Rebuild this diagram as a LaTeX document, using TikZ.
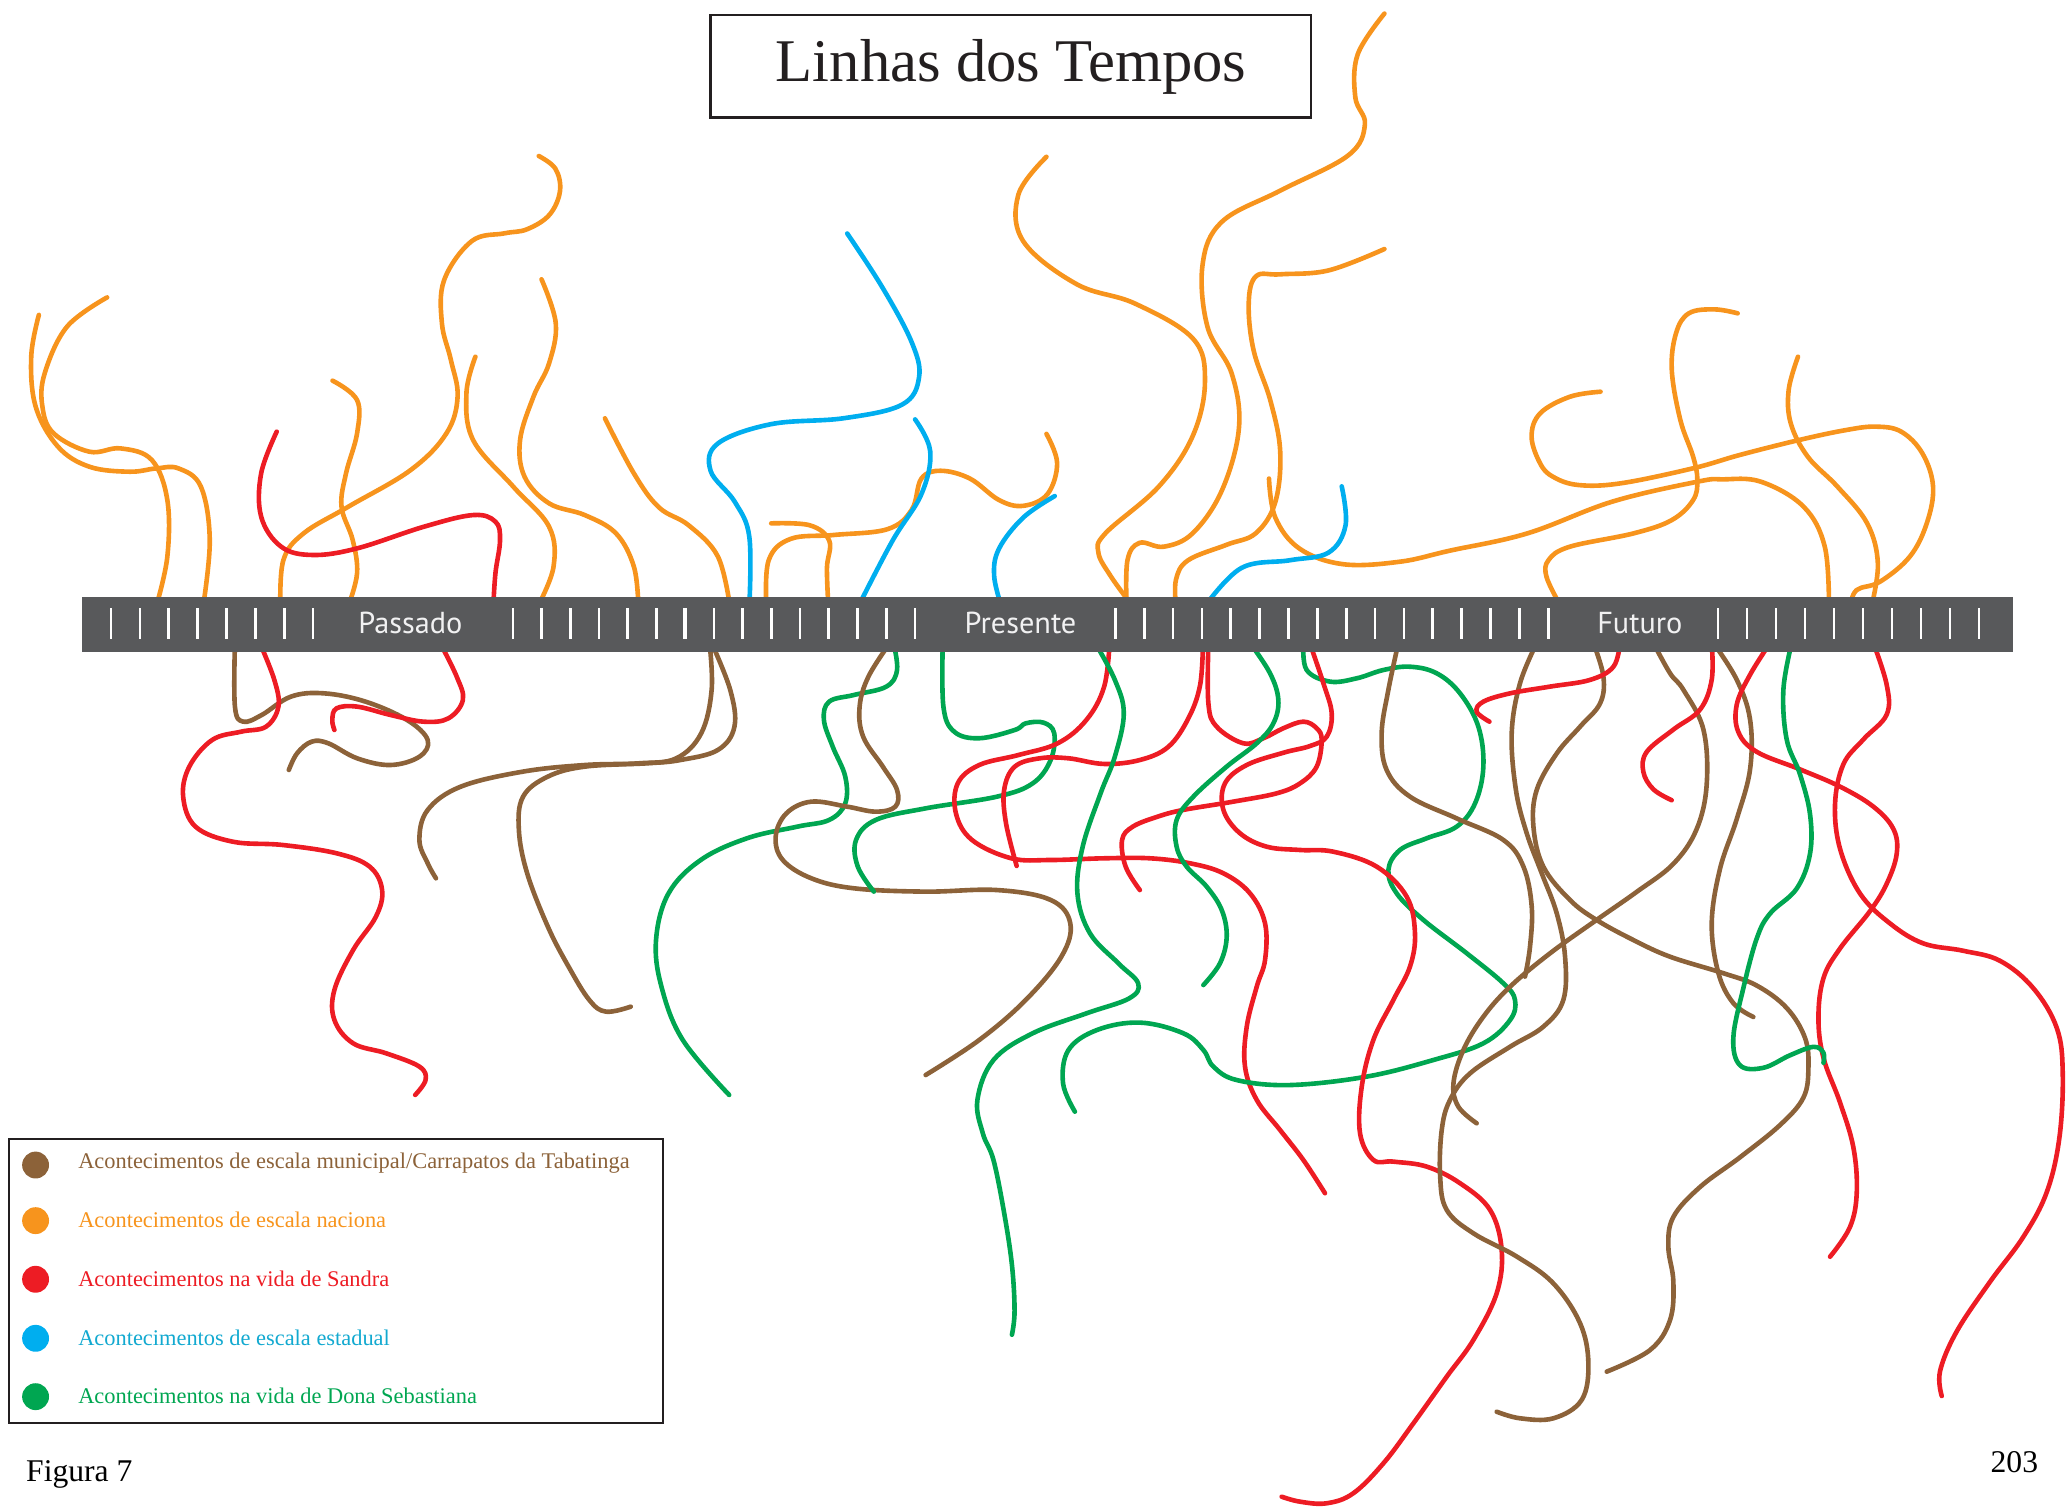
\documentclass[tikz,border=0pt]{standalone}
\usepackage{fontspec}
\setmainfont{Liberation Serif}
\newfontfamily\barfont{PT Sans}
\definecolor{cbrown}{HTML}{8C6239}
\definecolor{corange}{HTML}{F7941D}
\definecolor{cred}{HTML}{ED1C24}
\definecolor{cblue}{HTML}{00AEEF}
\definecolor{cbluetext}{HTML}{12A9D0}
\definecolor{cgreen}{HTML}{00A651}
\definecolor{barcol}{HTML}{58595B}
\definecolor{barlabelcol}{HTML}{F1F1F2}
\definecolor{frame}{HTML}{231F20}
\tikzset{
  crv/.style={line width=3.5pt, line cap=round, line join=round},
  tick/.style={draw=white, line width=2pt},
  barlabel/.style={anchor=base, text=barlabelcol, font=\barfont\fontsize{23}{26}\selectfont, inner sep=0pt},
  legtext/.style={anchor=base west, font=\fontsize{17}{20}\selectfont, inner sep=0pt},
  legdot/.style={circle, minimum size=20.4pt, inner sep=0pt},
  sm/.style={smooth, tension=0.62},
}
\begin{document}
\begin{tikzpicture}[x=1pt,y=-1pt]
\useasboundingbox (0,0) rectangle (1568,1143);

% ---------------- top curves ----------------
% orange
\draw[crv,corange] plot[sm] coordinates {(81.3,225.7) (50.8,248) (33.9,283.4) (32.2,308.7) (40.7,328.9) (67.8,342.8) (91.5,340.3) (115.2,349.1) (127,379.5) (127,422.5) (118.6,460)};
\draw[crv,corange] plot[sm] coordinates {(29.5,239) (23.7,270.7) (27.1,308.7) (44,339) (67.8,354.2) (98.3,358) (118.6,355.5) (135.5,355.5) (152.5,369.4) (159.2,409.9) (154.2,460)};
\draw[crv,corange] plot[sm] coordinates {(252.4,288.9) (271,303.6) (271,328.9) (262.6,359.3) (259.2,384.6) (267.7,409.9) (271,435.1) (264.3,460)};
\draw[crv,corange] plot[sm] coordinates {(408.9,118.4) (421.5,128) (425,145) (417,163) (400,174) (382.8,177.1) (358,183) (337.1,212.5) (335.4,245.4) (342.2,273.2) (347.3,301) (338.8,328.9) (311.7,356.7) (264.3,384.6) (230.4,404.8) (215.1,425) (212.8,460)};
\draw[crv,corange] plot[sm] coordinates {(360.8,270.7) (354,298.5) (359.1,334) (389.6,369.4) (416.7,399.7) (420.1,430.1) (408.3,460)};
\draw[crv,corange] plot[sm] coordinates {(411,212) (421.8,245.4) (416.7,275.8) (404.9,301) (394.7,334) (398.1,361.8) (416.7,382) (443.8,390.9) (467.5,404.8) (481.1,430.1) (484.5,460)};
\draw[crv,corange] plot[sm] coordinates {(459.1,317.5) (481.1,359.3) (500,385) (522.7,398.7) (544.8,422.3) (554,460)};
\draw[crv,corange] plot[sm] coordinates {(585.3,397.2) (614.7,398.7) (629.4,410.5) (627.6,431.1) (628.7,460)};
\draw[crv,corange] plot[sm] coordinates {(581.6,460) (583.4,425.2) (600,409) (633.1,406) (673.6,401.6) (692,386.8) (699.3,363.2) (714,357.3) (736.1,363.2) (758.2,379.5) (776.6,383.9) (795,375) (802.3,351.4) (794.2,329.3)};
\draw[crv,corange] plot[sm] coordinates {(794.2,119) (772.9,147.7) (776.6,183.1) (817,215.6) (861.2,230.3) (905.3,256.9) (914.5,289.4) (905.3,330.7) (879.6,369.1) (839.1,404.6) (833.6,419.3) (842.8,437) (858,458)};
\draw[crv,corange] plot[sm] coordinates {(1050.7,10.3) (1030.4,41.3) (1028.6,73.8) (1035.9,94.5) (1023,118.1) (971.6,144.7) (927.4,168.3) (912.7,200.8) (916.4,248) (934.8,283.5) (940.3,324.8) (927.4,372.1) (905.3,404.6) (883.3,414.9) (864.9,412) (855.7,425.2) (855,460)};
\draw[crv,corange] plot[sm] coordinates {(1050.7,189) (1008.4,205.2) (971.6,208.2) (953.2,209.7) (947.7,230.3) (951.4,265.8) (964.2,304.2) (971.6,342.6) (967.9,381) (953.2,404.6) (931.1,413.4) (901.7,425.2) (892.5,440) (892.5,460)};
\draw[crv,corange] plot[sm] coordinates {(963.1,363.2) (967.9,392.8) (986.3,416.4) (1019.4,428.2) (1062.5,426.3) (1100,418) (1159.2,404.8) (1223.7,380.7) (1288.2,365.6) (1307.5,363.8) (1336.5,365.6) (1368.8,384.5) (1384.9,414.9) (1388.1,460)};
\draw[crv,corange] plot[sm] coordinates {(1214.7,297.3) (1191.5,301.1) (1168.9,313.7) (1162.4,331.4) (1168.9,351.7) (1178.6,361.8) (1197.9,368.1) (1230.1,366.8) (1285,355.4) (1320.4,345.3) (1365.6,333.9) (1401,326.4) (1423.6,323.8) (1442.9,327.6) (1459,344.1) (1467.1,369.4) (1462.3,397.2) (1449.4,422.5) (1426.8,441.5) (1409.1,447.8) (1404.2,460)};
\draw[crv,corange] plot[sm] coordinates {(1318.8,237.8) (1301.1,234.8) (1281.7,237.8) (1272,253) (1268.8,280.8) (1275.3,318.8) (1285,346.6) (1288.2,364.3) (1285,379.5) (1268.8,394.7) (1239.8,404.8) (1191.5,414.9) (1175.3,425) (1173.7,437.7) (1183.4,458)};
\draw[crv,corange] plot[sm] coordinates {(1364.6,270.7) (1357.5,296) (1359.1,321.3) (1372,346.6) (1394.6,369.4) (1417.1,397.2) (1425.2,427.6) (1420.4,460)};
% red top
\draw[crv,cred] plot[sm] coordinates {(210,327.6) (198.2,359.3) (198.2,392.1) (213.4,414.9) (237.2,421.2) (271,416.2) (321.9,399.7) (359.1,390.9) (376,395.9) (379.5,409.9) (376,435.1) (374.4,460)};
% blue
\draw[crv,cblue] plot[sm] coordinates {(643,177.2) (669.9,218.5) (692,259.9) (697.5,286.4) (684.6,307.1) (640.5,317.4) (585.3,321.9) (544.8,336.6) (539.3,357.3) (557.7,380.9) (568.7,407.5) (568.7,460)};
\draw[crv,cblue] plot[sm] coordinates {(694.5,318.3) (706,342.6) (699.3,375) (677.3,410.5) (651.5,460)};
\draw[crv,cblue] plot[sm] coordinates {(800.5,376.5) (776.6,392.8) (758.2,416.4) (754.5,437) (760,460)};
\draw[crv,cblue] plot[sm] coordinates {(1018.3,369.1) (1021.2,398.7) (1008.4,419.3) (978.9,425.2) (942.1,431.1) (914.5,460)};

% ---------------- bottom curves ----------------
\draw[crv,cbrown] plot[sm] coordinates {(178.3,488) (178.3,536.3) (184.6,547.7) (198.7,542.6) (220.8,528.7) (245.9,526.2) (277.4,532.5) (308.9,546.4) (324.6,561.6) (318.3,574.3) (296.3,580.6) (271,575.5) (249.1,564.1) (236.5,562.9) (225.5,571.7) (219.2,584.4)};
\draw[crv,cred] plot[sm] coordinates {(197.2,488) (208.2,516) (211.3,536.3) (201.9,551.5) (183,555.3) (161,561.6) (143.7,581.8) (139,604.6) (148.4,627.4) (176.7,638.8) (214.5,641.3) (255.4,647.6) (280.5,657.7) (290,675.5) (285.3,695.7) (268,721) (253.8,751.3) (253.8,774.1) (268,791.8) (293.1,799.4) (318.3,809.5) (323,819.6) (315.1,831)};
\draw[crv,cred] plot[sm] coordinates {(334,488) (346.6,513.5) (351.3,531.2) (340.3,545.2) (321.4,547.7) (296.3,542.6) (271.1,536.3) (255.4,537.6) (252.2,546.4) (253.8,554)};
\draw[crv,cbrown] plot[sm] coordinates {(538.5,488) (540.1,523.6) (532.2,556.5) (513.3,575.5) (485,579.3) (444.1,580.6) (397,585.6) (349.8,597) (324.6,614.7) (318.3,637.5) (324.6,655.2) (330.9,666.6)};
\draw[crv,cbrown] plot[sm] coordinates {(540.1,488) (554.2,523.6) (557.4,551.5) (544.8,569.2) (516.5,576.8) (491.3,579.3) (444.1,581.8) (415.8,589.4) (397,604.6) (393.8,629.9) (400.1,662.8) (415.8,703.3) (431.5,733.6) (447.3,759) (459.9,767.8) (478.7,764)};
\draw[crv,cgreen] plot[sm] coordinates {(678.1,488) (680.8,508.5) (672.7,521.1) (648.3,527.4) (629.3,532.5) (625.3,546.4) (632,566.7) (641.5,589.4) (641.5,609.7) (629.3,622.3) (605,627.4) (567,636.2) (531.8,652.7) (507.4,678) (497.9,713.4) (502,748.8) (518.2,789.3) (553.4,831)};
\draw[crv,cbrown] plot[sm] coordinates {(675.4,488) (659.1,513.5) (652.4,536.3) (655.1,559.1) (670,581.8) (680.8,599.5) (679.5,612.2) (664.6,616) (642.9,612.2) (615.8,608.4) (596.8,617.3) (588.7,635) (594.1,652.7) (615.8,666.6) (648.3,674.2) (702.5,676.7) (756.7,675.5) (797.4,683) (812.3,700.8) (805.5,726.1) (778.4,759) (743.2,789.3) (702.5,815.9)};
\draw[crv,cgreen] plot[sm] coordinates {(663.2,676.7) (651,657.7) (649.7,637.5) (664.6,622.3) (702.5,613.5) (756.7,604.6) (783.8,594.5) (797.4,576.8) (800.1,556.5) (791.9,548.4) (778.4,549) (770.2,554) (743.2,560.3) (724.2,555.3) (716,536.3) (715.5,488)};
\draw[crv,cred] plot[sm] coordinates {(842.1,488) (838,521.1) (824.5,546.4) (802.8,564.1) (773,573) (743.2,580.6) (726.9,594.5) (725.5,617.3) (737.7,637.5) (767.5,651.4) (797.4,652.7) (838,651.4) (872.8,651.4) (903.2,655.2) (928.5,662.8) (948.7,678) (960.1,700.8) (960.1,728.6) (953.8,748.8) (946.2,779.2) (944.9,809.5) (953.8,834.8) (971.5,857.6) (989.2,880.4) (1005.6,905.6)};
\draw[crv,cred] plot[sm] coordinates {(771.6,657.2) (763.5,624.8) (762.1,599.5) (770.2,581.8) (789.2,575.5) (810.9,575.5) (838,579.8) (865.1,576.8) (886.8,566.7) (902,545) (910.8,520) (913,488)};
\draw[crv,cgreen] plot[sm] coordinates {(831.2,488) (846.1,516) (852.9,541.4) (846.1,574.3) (835.3,602.1) (821.7,642.6) (817.7,678) (827.2,708.3) (848.8,731.1) (863.8,746.3) (857,757.7) (824.5,769.1) (783.8,784.2) (754,804.5) (741.8,834.8) (745.9,860.1) (754,880.4) (762,920) (768,960) (770,995) (768,1013)};
\draw[crv,cgreen] plot[sm] coordinates {(815.8,843.7) (806.8,822.2) (810.9,796.9) (832.6,781.7) (865.1,776.1) (898.1,784.2) (913.3,796.9) (920.9,809.5) (938.6,819.7) (979,823.5) (1037.2,817.1) (1087.8,804.5) (1125.8,791.8) (1146.1,774.1) (1149.8,758.9) (1141,746.3) (1113.2,723.5) (1080.3,698.2) (1060,678) (1053.7,660.3) (1062.5,645.1) (1082.8,636.2) (1105.5,627.4) (1119.5,609.7) (1125.8,581.8) (1122,551.5) (1108.1,526.2) (1090.4,511) (1070.1,506) (1049.9,508.5) (1029.7,514.8) (1009.4,517.3) (991.7,508.5) (989.2,488)};
\draw[crv,cred] plot[sm] coordinates {(865.1,675.5) (854.3,657.7) (851.6,637.5) (859.7,627.4) (878.6,619.8) (898,614.7) (936,608.4) (968.9,602.1) (986.7,594.5) (999.3,581.8) (1003.1,561.6) (999.3,552.7) (989.2,547.7) (974,552.7) (958.8,560.3) (943.6,564.1) (923.4,551.5) (917.1,533.8) (917.1,488)};
\draw[crv,cred] plot[sm] coordinates {(994,488) (1004.4,518.6) (1010.7,541.4) (1006.9,559.1) (994.2,566.2) (974,571.3) (946.2,580.6) (929.7,594.5) (928.5,614.7) (941.1,632.4) (961.4,642.6) (986.7,645.1) (1012,646.4) (1044.8,657.7) (1067.6,680.5) (1073.9,708.3) (1070.1,733.6) (1057.5,758.9) (1042.3,789.3) (1033.5,824.7) (1032.2,860.1) (1042.3,880.3) (1057.5,881.6) (1082.8,885.4) (1108.1,898) (1130.9,918.3) (1139.7,948.7) (1135.9,981.5) (1118.2,1017) (1098,1044.8) (1072.7,1080.2) (1049.9,1110.6) (1027.1,1133.3) (1006.9,1140.9) (986.7,1139.7) (972.7,1135.9)};
\draw[crv,cgreen] plot[sm] coordinates {(948.7,488) (963.9,511) (970.2,531.2) (966.4,549) (953.8,564.1) (931,581.8) (905.7,604.6) (893,622.3) (893,642.6) (900.6,657.7) (915.8,672.9) (927.2,690.6) (931,710.9) (925.9,731.1) (913.3,747.6)};
\draw[crv,cbrown] plot[sm] coordinates {(1061.3,488) (1053.7,523.6) (1048.6,556.5) (1052.4,584.4) (1070.1,604.6) (1105.5,621.1) (1141,637.5) (1156.2,657.7) (1162.5,688.1) (1161.2,718.5) (1157.4,741.2)};
\draw[crv,cbrown] plot[sm] coordinates {(1166.3,488) (1153.6,518.6) (1147.3,556.5) (1150.5,599.5) (1158.7,632.4) (1170.1,662.8) (1181.5,693.2) (1187.8,726.1) (1186.5,758.9) (1171.3,779.2) (1146.1,794.4) (1115.7,814.6) (1100.5,834.8) (1094.2,857.6) (1093,893) (1098,918.3) (1118.2,936) (1151.2,953.7) (1178.9,974) (1199.2,1004.3) (1205.5,1034.7) (1200.4,1062.5) (1179,1076.4) (1153.6,1076.4) (1135.9,1071.4)};
\draw[crv,cbrown] plot[sm] coordinates {(1209.3,488) (1216.9,513.5) (1214.4,533.8) (1199.2,551.5) (1181.5,571.8) (1166.3,599.5) (1163.8,627.4) (1171.3,657.7) (1191.5,683) (1211.7,698.2) (1239.6,713.4) (1267.5,726.1) (1307.9,738.6) (1333.3,748) (1356,765) (1369.9,787.7) (1372.5,810.4) (1368.7,833) (1351,853.8) (1320.6,878.3) (1290.2,900.9) (1270,923.6) (1266.2,946.2) (1270,972.7) (1267.5,1001.8) (1252.3,1024.6) (1219.4,1041)};
\draw[crv,cbrown] plot[sm] coordinates {(1254.8,488) (1267.5,511) (1277.6,523.5) (1292.8,553.7) (1295.3,595.2) (1287.7,629.2) (1270,655.6) (1242,677) (1211.7,698.2) (1176.4,723.5) (1146.1,748.8) (1125.8,771.6) (1110.6,796.9) (1103.1,822.2) (1106.8,839.9) (1120.7,852.5)};
\draw[crv,cbrown] plot[sm] coordinates {(1300.4,488) (1318.1,515.9) (1328.2,546.1) (1328.2,583.9) (1318.1,621.6) (1305.4,659.4) (1299.1,700.9) (1304.2,738.6) (1315.5,761.3) (1330.7,771.8)};
\draw[crv,cred] plot[sm] coordinates {(1229.5,488) (1224.5,506) (1206.8,516) (1176.4,521.1) (1146.1,526.2) (1125.8,532.5) (1120.7,540.1) (1130.4,547.7)};
\draw[crv,cred] plot[sm] coordinates {(1299.1,488) (1299.1,515.9) (1290.2,538.6) (1270,553.7) (1249.8,570.6) (1247.2,585.7) (1254.8,599) (1268.7,607.3)};
\draw[crv,cred] plot[sm] coordinates {(1343.4,488) (1328.2,512.1) (1318.1,534.8) (1319.3,555.5) (1333.3,570.6) (1366.1,583.9) (1396.5,597) (1421.8,612.2) (1437,629.2) (1439.5,648) (1431.9,670.7) (1419.3,691.4) (1396.5,719.8) (1383.9,742.4) (1380.1,772.6) (1383.9,802.8) (1396.5,836.8) (1406.6,870.7) (1409.2,904.7) (1404.1,931.1) (1388.9,953.8)};
\draw[crv,cred] plot[sm] coordinates {(1421.8,488) (1431.9,519.7) (1431.9,542.3) (1414.2,561.2) (1399,580.1) (1392.7,610.3) (1396.5,644.2) (1411.7,678.2) (1434.5,700.9) (1459.7,716) (1490.1,721.6) (1517.9,729.2) (1543.2,750) (1561,780.2) (1565.5,814.1) (1563,863.2) (1553.4,904.7) (1535.6,938.7) (1510.4,972.7) (1485.1,1010.4) (1472.4,1040.6) (1473.7,1059.5)};
\draw[crv,cgreen] plot[sm] coordinates {(1359.8,488) (1353.5,523.5) (1356,561.2) (1366.1,587.6) (1373.7,617.8) (1373.7,648) (1363.6,674.4) (1343.4,693.3) (1333.3,712.2) (1323.1,750) (1315.5,787.7) (1320.6,808.5) (1338.3,810.4) (1358.5,800.9) (1376.3,794.5) (1383.9,799) (1383.9,806.6)};

% ---------------- timeline bar ----------------
\fill[barcol] (62,453) rectangle (1527.5,494.5);
\foreach \i in {0,...,7} {\draw[tick] ({84.3+21.9*\i},461.7) -- ({84.3+21.9*\i},485);}
\foreach \i in {0,...,14} {\draw[tick] ({389.2+21.8*\i},461.7) -- ({389.2+21.8*\i},485);}
\draw[tick, line width=3pt] (520,461.7) -- (520,485);
\foreach \i in {0,...,15} {\draw[tick] ({846.5+21.9*\i},461.7) -- ({846.5+21.9*\i},485);}
\foreach \i in {0,...,9} {\draw[tick] ({1304+22*\i},461.7) -- ({1304+22*\i},485);}
\node[barlabel] (passado) at (311.5,480.7) {Passado};
\node[barlabel] (presente) at (774.5,480.7) {Presente};
\node[barlabel] (futuro) at (1244.6,480.7) {Futuro};

% ---------------- title ----------------
\draw[frame, line width=1.8pt] (539.3,11.2) rectangle (994.8,89.2);
\node[anchor=base, inner sep=0pt, text=frame, font=\fontsize{46}{50}\selectfont] (title) at (767.4,62) {Linhas dos Tempos};

% ---------------- legend ----------------
\draw[frame, line width=1.6pt] (6.6,864.7) rectangle (503.1,1079.8);
\node[legdot, fill=cbrown] (d1) at (27,884.2) {};
\node[legdot, fill=corange] (d2) at (27,926.4) {};
\node[legdot, fill=cred] (d3) at (27,970.9) {};
\node[legdot, fill=cblue] (d4) at (27,1015.7) {};
\node[legdot, fill=cgreen] (d5) at (27,1060) {};
\node[legtext, text=cbrown] (l1) at (59.2,886.7) {Acontecimentos de escala municipal/Carrapatos da Tabatinga};
\node[legtext, text=corange] (l2) at (59.2,931.3) {Acontecimentos de escala naciona};
\node[legtext, text=cred] (l3) at (59.2,976.2) {Acontecimentos na vida de Sandra};
\node[legtext, text=cbluetext] (l4) at (59.2,1021) {Acontecimentos de escala estadual};
\node[legtext, text=cgreen] (l5) at (59.2,1065.4) {Acontecimentos na vida de Dona Sebastiana};

% ---------------- captions ----------------
\node[anchor=base west, inner sep=0pt, font=\fontsize{24}{28}\selectfont] (fig) at (19.7,1124.5) {Figura 7};
\node[anchor=base east, inner sep=0pt, font=\fontsize{24}{28}\selectfont] (page) at (1547,1117.5) {203};
\end{tikzpicture}
\end{document}
